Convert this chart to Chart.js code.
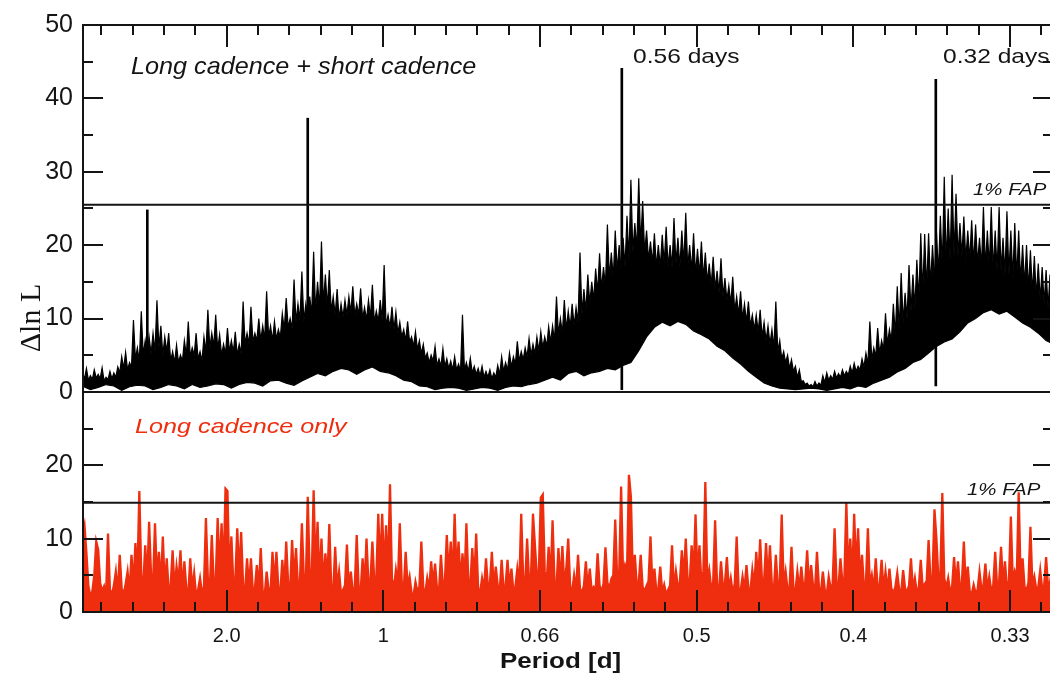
<!DOCTYPE html>
<html>
<head>
<meta charset="utf-8">
<script src="https://cdn.jsdelivr.net/npm/chart.js@4.4.1/dist/chart.umd.min.js"></script>
<style>
  html, body { margin: 0; padding: 0; background: #fff; overflow: hidden; }
  #wrap { width: 1056px; height: 673px; }
</style>
</head>
<body>
<div id="wrap"><canvas id="periodogram" width="1056" height="673"></canvas></div>
<script>
// Long + short cadence periodogram. Peak tops every 0.0125 c/d from 0.04 c/d,
// the dips between them half a step later.
const combinedStart = 0.04;
const combinedStep = 0.0125;
const combinedPeak = [
  2.5, 3.2, 2.2, 3.0, 2.4, 3.3, 2.0, 2.8, 2.6, 3.4,
  4.8, 5.4, 4.0, 9.8, 6.0, 11.0, 7.0, 7.5, 8.0, 12.5,
  9.0, 7.5, 8.0, 5.5, 6.4, 5.0, 7.0, 9.6, 6.0, 8.0,
  5.5, 7.5, 11.2, 8.0, 10.5, 7.8, 6.5, 8.7, 7.0, 8.2,
  6.5, 12.3, 8.0, 11.6, 8.0, 10.0, 9.0, 13.7, 9.0, 9.6,
  8.5, 10.7, 12.8, 10.0, 15.3, 12.0, 16.4, 12.0, 13.0, 19.1,
  15.0, 20.5, 16.0, 16.6, 13.0, 14.0, 12.0, 12.5, 13.0, 14.4,
  12.0, 14.1, 11.5, 12.5, 14.6, 11.0, 12.5, 17.3, 10.5, 11.6,
  10.9, 9.5, 8.5, 9.6, 7.5, 8.2, 7.0, 6.5, 5.3, 5.0,
  6.2, 4.5, 5.9, 4.5, 4.2, 4.8, 3.8, 10.5, 4.0, 4.6,
  3.5, 3.2, 3.5, 2.8, 3.0, 2.6, 3.6, 4.8, 4.0, 5.3,
  4.8, 6.9, 5.5, 6.0, 7.3, 6.5, 7.5, 8.2, 7.5, 8.9,
  9.0, 13.0, 10.0, 12.5, 11.0, 12.0, 11.5, 19.0, 14.0, 16.0,
  15.0, 16.8, 18.9, 17.0, 22.8, 19.0, 22.0, 20.0, 21.0, 24.0,
  28.9, 23.0, 29.1, 26.0, 22.0, 20.5, 21.6, 20.0, 21.4, 22.5,
  20.0, 23.7, 21.0, 22.0, 24.4, 20.0, 21.6, 19.5, 20.5, 19.0,
  17.5, 18.4, 16.5, 18.2, 15.5, 14.5, 15.7, 13.0, 13.7, 12.0,
  12.3, 10.5, 10.5, 11.2, 9.5, 9.0, 8.5, 12.3, 7.0, 5.5,
  5.0, 4.4, 3.5, 3.0, 1.5, 1.2, 1.0, 1.4, 1.2, 2.2,
  2.6, 2.2, 2.8, 2.5, 3.0, 2.8, 3.5, 3.9, 3.5, 4.5,
  5.3, 9.6, 6.0, 8.7, 7.0, 10.7, 8.5, 12.0, 14.4, 16.2,
  13.5, 17.3, 16.0, 18.0, 21.6, 21.5, 21.6, 20.0, 22.0, 24.0,
  29.3, 25.0, 29.6, 27.0, 23.0, 23.9, 22.0, 23.4, 22.8, 21.0,
  25.2, 22.0, 25.2, 22.0, 25.2, 21.0, 24.6, 22.0, 23.0, 22.0,
  20.0, 20.0, 19.3, 18.5, 17.5, 17.0, 16.6, 16.0, 17.0, 15.0
];
const combinedDip = [
  1.8, 1.6, 1.7, 1.9, 1.8, 1.5, 1.7, 1.8, 2.0, 2.6,
  3.2, 3.0, 3.4, 4.5, 4.2, 5.0, 4.8, 5.2, 5.5, 6.0,
  5.0, 5.5, 4.2, 4.0, 4.0, 4.2, 5.0, 4.8, 5.0, 4.5,
  4.2, 5.5, 6.0, 6.2, 5.8, 5.0, 5.2, 5.5, 5.4, 5.0,
  5.2, 6.5, 6.5, 6.8, 7.0, 7.0, 7.2, 7.5, 7.0, 7.2,
  7.4, 8.5, 8.8, 8.6, 9.5, 9.8, 9.6, 10.0, 10.5, 11.0,
  11.5, 12.0, 11.5, 11.0, 10.5, 10.0, 10.2, 10.5, 10.8, 10.4,
  10.5, 10.0, 9.8, 10.2, 9.5, 9.6, 9.8, 9.0, 8.8, 8.5,
  8.0, 7.5, 7.0, 6.8, 6.2, 5.8, 5.2, 4.6, 4.0, 4.2,
  3.6, 3.5, 3.4, 3.2, 3.0, 3.0, 2.8, 3.0, 2.8, 2.6,
  2.4, 2.2, 2.0, 2.0, 1.8, 2.0, 2.4, 2.8, 3.0, 3.4,
  3.8, 4.2, 4.4, 4.8, 5.0, 5.2, 5.6, 6.0, 6.2, 6.8,
  7.0, 7.8, 8.0, 8.5, 8.8, 9.0, 9.5, 10.5, 11.0, 12.0,
  12.5, 13.5, 14.0, 14.5, 15.5, 15.5, 16.5, 16.5, 17.0, 18.0,
  19.0, 19.5, 20.0, 19.0, 18.0, 17.5, 17.0, 17.0, 17.5, 17.0,
  17.0, 17.5, 17.0, 17.5, 17.0, 16.5, 16.0, 16.0, 15.5, 15.0,
  14.5, 14.0, 13.5, 13.0, 12.5, 12.0, 11.0, 10.5, 10.0, 9.5,
  9.0, 8.5, 8.2, 7.5, 7.0, 6.5, 6.0, 5.5, 4.5, 4.0,
  3.2, 2.8, 2.0, 1.4, 1.0, 0.8, 0.7, 0.8, 0.9, 1.3,
  1.6, 1.7, 1.9, 2.0, 2.2, 2.3, 2.6, 2.8, 3.0, 3.4,
  3.8, 4.4, 4.8, 5.2, 5.8, 6.5, 7.0, 7.8, 8.5, 9.5,
  10.0, 11.0, 11.5, 12.5, 13.5, 14.0, 14.5, 15.0, 16.0, 17.0,
  17.5, 18.0, 18.5, 18.5, 18.5, 18.0, 18.0, 17.5, 17.5, 17.0,
  17.0, 17.0, 16.5, 16.5, 16.5, 16.0, 16.0, 15.5, 15.5, 15.0,
  14.5, 14.0, 13.5, 13.0, 12.5, 12.0, 11.5, 11.5, 11.0, 10.5
];

// lower edge of the same periodogram, every 0.025 c/d
const floorStart = 0.04;
const floorStep = 0.025;
const combinedFloor = [
  0.8, 0.3, 0.6, 1.0, 0.8, 0.2, 0.7, 0.9, 0.8, 0.3,
  0.6, 1.0, 0.8, 0.4, 1.0, 0.6, 0.8, 1.1, 1.0, 0.5,
  1.0, 1.3, 1.2, 0.8, 1.5, 1.6, 1.2, 0.9, 1.5, 2.0,
  2.5, 2.2, 2.8, 3.2, 3.0, 2.4, 3.0, 3.4, 2.8, 2.6,
  2.2, 1.6, 1.4, 0.8, 0.7, 0.3, 0.5, 0.6, 0.5, 0.2,
  0.4, 0.6, 0.5, 0.2, 0.6, 0.8, 0.7, 1.0, 1.2, 1.6,
  2.0, 1.6, 2.5, 2.8, 2.2, 2.6, 2.8, 3.2, 3.0, 3.6,
  4.0, 5.6, 7.5, 8.8, 9.5, 9.0, 9.6, 9.2, 8.3, 7.8,
  7.2, 6.2, 5.6, 4.6, 3.8, 2.8, 2.0, 1.2, 0.8, 0.5,
  0.4, 0.3, 0.4, 0.5, 0.4, 0.2, 0.4, 0.6, 0.4, 0.8,
  0.6, 1.2, 1.6, 2.0, 2.7, 3.2, 4.0, 4.4, 5.3, 6.2,
  6.8, 7.2, 8.2, 9.4, 10.0, 10.8, 11.2, 10.6, 11.0, 10.2,
  9.4, 8.8, 8.0, 7.0, 6.5, 5.8
];

// narrow peaks standing out of the band (c/d, low, high)
const spikeFreq = [0.2467, 0.7587, 1.761, 2.763];
const spikeLow = [1.0, 3.0, 0.3, 0.8];
const spikeHigh = [24.8, 37.3, 44.1, 42.6];

// long cadence only periodogram, every 0.00625 c/d from 0.04 c/d
const longStart = 0.04;
const longStep = 0.00625;
const longOnly = [
  10.5, 11.8, 8.0, 3.5, 2.2, 2.8, 5.0, 9.6, 8.5, 4.0, 2.8, 3.5, 2.2, 10.7, 3.0, 2.4, 3.6, 5.5, 2.5, 7.8,
  3.2, 2.4, 3.8, 5.5, 2.6, 7.8, 3.5, 9.4, 4.5, 16.5, 5.0, 3.5, 9.1, 4.2, 12.3, 5.0, 3.8, 12.1, 4.5, 8.2,
  3.5, 10.3, 3.2, 7.3, 2.8, 3.6, 8.4, 3.0, 6.2, 4.0, 8.4, 2.6, 6.9, 3.2, 2.4, 7.3, 3.0, 5.3, 2.2, 3.0,
  4.6, 2.6, 3.4, 12.8, 4.5, 3.2, 10.5, 3.8, 4.2, 12.8, 5.5, 12.1, 5.0, 16.8, 16.5, 4.5, 10.3, 3.8, 4.4, 11.4,
  5.0, 10.9, 3.6, 2.8, 7.3, 3.4, 7.3, 2.6, 3.2, 6.4, 3.0, 8.7, 2.8, 2.2, 5.5, 3.0, 2.6, 8.2, 3.6, 8.2,
  3.2, 2.6, 7.1, 3.4, 9.6, 3.8, 3.0, 9.8, 4.2, 8.7, 3.4, 4.0, 12.1, 4.5, 3.8, 15.7, 5.0, 4.2, 16.6, 5.5,
  12.3, 4.0, 10.0, 3.6, 8.0, 4.0, 12.0, 3.4, 2.8, 8.9, 3.2, 5.5, 2.4, 3.0, 3.6, 9.2, 2.8, 5.5, 2.6, 3.4,
  10.5, 3.2, 2.8, 7.3, 3.6, 10.0, 3.8, 4.2, 9.6, 4.0, 4.6, 13.4, 6.0, 13.4, 5.5, 11.8, 5.0, 17.4, 4.5, 3.2,
  5.7, 3.6, 12.1, 4.0, 3.0, 8.2, 3.4, 4.8, 2.6, 2.2, 4.1, 2.8, 3.4, 9.6, 3.2, 2.6, 4.6, 3.0, 6.9, 3.6,
  6.6, 3.2, 2.8, 7.8, 3.6, 4.0, 10.5, 4.8, 9.6, 4.5, 13.4, 5.0, 9.6, 3.8, 8.0, 4.0, 12.1, 4.2, 3.6, 8.7,
  4.0, 10.7, 3.2, 2.6, 4.6, 3.0, 7.3, 3.4, 3.8, 8.2, 3.2, 6.2, 3.6, 2.8, 7.1, 3.0, 3.6, 7.1, 3.2, 5.9,
  2.8, 3.4, 5.9, 3.6, 13.4, 4.5, 3.8, 10.0, 4.2, 5.0, 13.4, 9.1, 4.8, 5.5, 15.6, 16.0, 5.5, 4.0, 8.9, 4.2,
  12.5, 4.0, 3.4, 8.7, 3.8, 9.0, 3.6, 5.9, 10.0, 3.4, 2.8, 5.0, 3.0, 7.8, 3.2, 2.6, 3.6, 6.9, 3.0, 5.9,
  2.8, 3.4, 3.0, 8.0, 3.6, 2.8, 3.8, 8.8, 4.0, 3.2, 4.5, 5.0, 12.6, 4.5, 5.0, 17.1, 5.0, 6.4, 5.5, 18.7,
  15.7, 4.5, 7.8, 3.6, 4.0, 7.8, 3.4, 2.8, 3.6, 4.2, 10.3, 3.4, 5.9, 2.8, 3.2, 6.2, 2.6, 3.7, 2.4, 3.0,
  3.6, 9.1, 3.0, 5.5, 3.4, 4.0, 8.4, 4.5, 10.0, 4.2, 3.8, 9.1, 5.0, 13.3, 4.6, 9.1, 4.0, 5.5, 17.7, 4.2,
  5.7, 3.2, 4.0, 12.5, 3.6, 3.0, 6.9, 3.4, 3.8, 7.5, 3.0, 4.6, 2.6, 3.8, 10.3, 3.2, 2.8, 4.8, 3.0, 6.4,
  3.2, 2.8, 5.7, 3.4, 8.2, 4.0, 9.9, 3.8, 4.2, 9.4, 4.0, 9.1, 3.6, 3.0, 7.8, 3.4, 4.2, 13.3, 3.6, 5.5,
  3.0, 3.4, 8.9, 3.2, 2.8, 5.5, 3.0, 6.2, 3.4, 4.0, 8.4, 3.2, 6.4, 3.6, 3.0, 8.2, 3.4, 2.6, 5.5, 3.0,
  2.4, 4.8, 3.2, 3.8, 11.4, 4.0, 3.4, 7.3, 4.0, 4.6, 15.0, 5.0, 10.0, 4.5, 13.4, 5.5, 11.4, 4.2, 7.8, 3.4,
  4.0, 11.4, 3.6, 5.0, 2.8, 7.3, 3.2, 3.6, 7.1, 3.0, 5.5, 2.8, 5.9, 3.2, 2.6, 3.4, 5.3, 3.0, 2.6, 5.7,
  3.2, 2.8, 3.6, 7.3, 3.0, 4.6, 2.6, 3.4, 7.1, 3.2, 3.8, 4.2, 9.8, 4.0, 4.6, 14.0, 10.0, 4.5, 5.0, 16.2,
  4.6, 3.2, 4.6, 2.8, 3.4, 7.5, 3.6, 6.9, 3.2, 4.0, 9.6, 3.4, 6.2, 2.8, 2.4, 3.7, 2.6, 3.0, 5.5, 3.2,
  3.6, 6.6, 3.0, 4.8, 2.8, 3.6, 8.2, 3.4, 4.0, 8.9, 3.6, 6.9, 3.2, 4.2, 13.0, 4.0, 5.5, 4.5, 16.3, 4.2,
  7.3, 3.4, 3.0, 4.0, 11.6, 3.6, 4.8, 3.0, 3.4, 5.7, 3.2, 3.6, 7.5, 3.4, 4.0, 6.0, 3.0
];

// 1% false alarm levels
const fapCombined = 25.5;
const fapLong = 14.9;

// frequency axis, labelled in period
const freqMin = 0.0415;
const freqMax = 3.137;
const periodTicks = [0.5, 1, 1.5, 2, 2.5, 3];
const periodLabels = ['2.0', '1', '0.66', '0.5', '0.4', '0.33'];

const RED = 'rgb(238, 46, 14)';
const INK = '#141414';

const onGrid = (values, start, step) => values.map((v, i) => ({ x: start + i * step, y: v }));
const fapLine = level => [{ x: freqMin, y: level }, { x: freqMax, y: level }];

// peak tops and the dips between them, in frequency order
const combinedEdge = [];
combinedPeak.forEach((v, i) => {
  const f = combinedStart + i * combinedStep;
  combinedEdge.push({ x: f, y: v });
  combinedEdge.push({ x: f + combinedStep / 2, y: combinedDip[i] });
});

// box, inward ticks and the text inside the panels
const framePlugin = {
  id: 'frame',
  afterDraw(chart) {
    const { ctx, chartArea: a, scales } = chart;
    const x = scales.x, yTop = scales.yTop, yBot = scales.yBot;
    ctx.save();
    ctx.strokeStyle = INK;
    ctx.lineWidth = 2;
    ctx.beginPath();
    ctx.rect(a.left, a.top, a.right - a.left, a.bottom - a.top);
    ctx.moveTo(a.left, yTop.bottom);
    ctx.lineTo(a.right, yTop.bottom);

    for (let k = 1; k <= 31; k++) {
      const px = Math.round(x.getPixelForValue(k / 10));
      if (px <= a.left || px >= a.right) continue;
      const len = k % 5 === 0 ? 22 : 10;
      ctx.moveTo(px, a.top); ctx.lineTo(px, a.top + len);
      ctx.moveTo(px, a.bottom); ctx.lineTo(px, a.bottom - len);
    }
    [[yTop, 50], [yBot, 30]].forEach(([s, max]) => {
      for (let v = 5; v < max; v += 5) {
        const py = Math.round(s.getPixelForValue(v));
        const len = v % 10 === 0 ? 20 : 10;
        ctx.moveTo(a.left, py); ctx.lineTo(a.left + len, py);
        ctx.moveTo(a.right, py); ctx.lineTo(a.right - len, py);
      }
    });
    ctx.stroke();

    const text = (str, px, py, font, color, sx) => {
      ctx.save();
      ctx.translate(px, py);
      ctx.scale(sx, 1);
      ctx.font = font;
      ctx.fillStyle = color;
      ctx.textAlign = 'left';
      ctx.textBaseline = 'alphabetic';
      ctx.fillText(str, 0, 0);
      ctx.restore();
    };
    const sans = '"Liberation Sans", Arial, sans-serif';
    text('Long cadence + short cadence', 131, 74, 'italic 24px ' + sans, INK, 1.05);
    text('0.56 days', 633, 63, '21px ' + sans, INK, 1.17);
    text('0.32 days', 943, 63, '21px ' + sans, INK, 1.17);
    text('1% FAP', 973, 195, 'italic 17px ' + sans, INK, 1.2);
    text('1% FAP', 967, 495, 'italic 17px ' + sans, INK, 1.2);
    text('Long cadence only', 135, 433, 'italic 21px ' + sans, RED, 1.2);
    text('Period [d]', 500, 668, 'bold 22px ' + sans, INK, 1.18);

    ctx.translate(32, 318);
    ctx.rotate(-Math.PI / 2);
    ctx.font = '30px "Liberation Serif", "Times New Roman", serif';
    ctx.fillStyle = INK;
    ctx.textAlign = 'center';
    ctx.textBaseline = 'middle';
    ctx.fillText('\u0394ln L', 0, 0);
    ctx.restore();
  }
};

Chart.defaults.font.family = '"Liberation Sans", Arial, sans-serif';
Chart.defaults.color = INK;

new Chart(document.getElementById('periodogram'), {
  type: 'line',
  data: {
    datasets: [
      { data: fapLine(fapCombined), yAxisID: 'yTop', borderColor: INK, borderWidth: 2 },
      { data: fapLine(fapLong), yAxisID: 'yBot', borderColor: INK, borderWidth: 2 },
      {
        type: 'bar',
        data: spikeFreq.map((f, i) => ({ x: f, y: [spikeLow[i], spikeHigh[i]] })),
        yAxisID: 'yTop',
        backgroundColor: '#000',
        borderWidth: 0,
        barThickness: 2,
        grouped: false
      },
      {
        data: onGrid(combinedFloor, floorStart, floorStep),
        yAxisID: 'yTop',
        borderColor: '#000',
        borderWidth: 1.2,
        fill: false
      },
      {
        data: combinedEdge,
        yAxisID: 'yTop',
        borderColor: '#000',
        backgroundColor: '#000',
        borderWidth: 1.2,
        fill: '-1'
      },
      {
        data: onGrid(longOnly, longStart, longStep),
        yAxisID: 'yBot',
        borderColor: RED,
        backgroundColor: RED,
        borderWidth: 2.3,
        fill: 'origin'
      }
    ]
  },
  options: {
    responsive: false,
    animation: false,
    devicePixelRatio: 1,
    layout: { padding: { top: 24, right: 3, left: 0, bottom: 0 } },
    elements: { point: { radius: 0 }, line: { tension: 0 } },
    plugins: { legend: { display: false }, tooltip: { enabled: false } },
    scales: {
      x: {
        type: 'linear',
        position: 'bottom',
        min: freqMin,
        max: freqMax,
        offset: false,
        grid: { display: false, drawTicks: false },
        border: { display: false },
        afterBuildTicks: s => { s.ticks = periodTicks.map(v => ({ value: v })); },
        ticks: {
          autoSkip: false,
          maxRotation: 0,
          padding: 12,
          font: { size: 20 },
          callback: (v, i) => periodLabels[i]
        },
        afterFit: s => { s.height = 61; }
      },
      yBot: {
        type: 'linear',
        position: 'left',
        stack: 'panels',
        stackWeight: 30,
        min: 0,
        max: 30,
        grid: { display: false, drawTicks: false },
        border: { display: false },
        ticks: { stepSize: 10, padding: 10, font: { size: 25 }, callback: v => (v === 30 ? '' : v) },
        afterFit: s => { s.width = 83; }
      },
      yTop: {
        type: 'linear',
        position: 'left',
        stack: 'panels',
        stackWeight: 50,
        min: 0,
        max: 50,
        grid: { display: false, drawTicks: false },
        border: { display: false },
        ticks: { stepSize: 10, padding: 10, font: { size: 25 } },
        afterFit: s => { s.width = 83; }
      }
    }
  },
  plugins: [framePlugin]
});
</script>
</body>
</html>
